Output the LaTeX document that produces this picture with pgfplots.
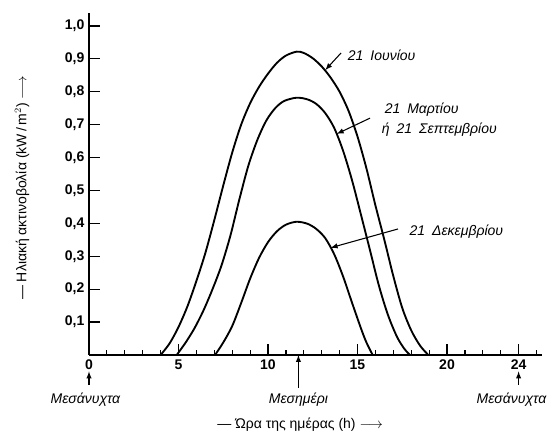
\documentclass[border=0pt]{standalone}
\usepackage{fontspec}
\setmainfont{Liberation Sans}
\usepackage{pgfplots}
\pgfplotsset{compat=1.18}
\begin{document}
\begin{tikzpicture}
\begin{axis}[
    at={(0,0)}, anchor=origin,
    x=13.425pt, y=246.75pt,
    xmin=0, xmax=25.3, ymin=0, ymax=1.04,
    axis lines=left,
    axis line style={-, line width=1.1pt},
    clip=false,
    xtick={0,5,10,15,20,24},
    minor xtick={1,2,3,4,6,7,8,9,11,12,13,14,16,17,18,19,21,22,23,25},
    ytick={0.1,0.2,0.3,0.4,0.5,0.6,0.7,0.8,0.9,1.0},
    major tick length=8pt,
    minor tick length=4pt,
    tick align=inside,
    every tick/.style={line width=0.9pt, black},
    /pgf/number format/assume math mode=true,
    yticklabel style={/pgf/number format/.cd, fixed, fixed zerofill, precision=1, use comma},
    ticklabel style={font=\fontsize{10.5}{12}\selectfont\bfseries},
    xlabel={— Ώρα της ημέρας (h) $\longrightarrow$},
    xlabel style={at={(axis cs:11.8,-0.213)}, anchor=center, font=\fontsize{10.5}{12}\selectfont},
    ylabel={— Ηλιακή ακτινοβολία (kW\,/\,m$^{2}$) $\longrightarrow$},
    ylabel style={at={(axis cs:-3.74,0.508)}, anchor=center, font=\fontsize{10.5}{12}\selectfont},
    cycle list={{black}},
    every axis plot/.append style={no markers, line width=1.4pt, smooth},
]
% 21 June
\addplot coordinates {
    (4.0,0) (4.5,0.035) (5.0,0.085) (5.5,0.148) (6.0,0.225) (6.5,0.31)
    (7.0,0.41) (7.5,0.515) (8.0,0.615) (8.5,0.70) (9.0,0.765) (9.5,0.815)
    (10.0,0.855) (10.5,0.888) (11.0,0.91) (11.6,0.922) (12.0,0.918)
    (12.5,0.902) (13.0,0.877) (13.5,0.843) (14.0,0.80) (14.5,0.742)
    (15.0,0.664) (15.5,0.567) (16.0,0.455) (16.5,0.35) (17.0,0.24)
    (17.5,0.143) (18.0,0.075) (18.5,0.028) (18.96,0)
};
% 21 March / 21 September
\addplot coordinates {
    (4.9,0) (5.4,0.038) (5.9,0.082) (6.4,0.136) (6.9,0.20) (7.4,0.272)
    (7.9,0.363) (8.4,0.473) (8.9,0.575) (9.4,0.653) (9.9,0.712) (10.4,0.75)
    (10.9,0.772) (11.6,0.782) (12.2,0.777) (12.7,0.763) (13.2,0.735)
    (13.7,0.69) (14.2,0.62) (14.7,0.53) (15.2,0.425) (15.7,0.318)
    (16.2,0.21) (16.7,0.122) (17.2,0.056) (17.6,0.02) (17.93,0)
};
% 21 December
\addplot coordinates {
    (7.04,0) (7.5,0.038) (8.0,0.088) (8.5,0.158) (9.0,0.232) (9.5,0.295)
    (10.0,0.343) (10.5,0.376) (11.0,0.396) (11.6,0.405) (12.2,0.399)
    (12.7,0.383) (13.2,0.355) (13.7,0.306) (14.2,0.238) (14.7,0.158)
    (15.2,0.08) (15.5,0.038) (15.85,0)
};
% annotations
\draw[line width=0.8pt, -latex] (axis cs:14.08,0.918) -- (axis cs:13.2,0.866);
\node[anchor=west, font=\fontsize{10.5}{12}\selectfont\itshape] at (axis cs:14.2,0.912) {21\enspace Ιουνίου};
\draw[line width=0.8pt, -latex] (axis cs:15.7,0.72) -- (axis cs:13.84,0.672);
\node[anchor=west, font=\fontsize{10.5}{12}\selectfont\itshape] at (axis cs:16.26,0.745) {21\enspace Μαρτίου};
\node[anchor=west, font=\fontsize{10.5}{12}\selectfont\itshape] at (axis cs:16.1,0.684) {ή\enspace 21\enspace Σεπτεμβρίου};
\draw[line width=0.8pt, -latex] (axis cs:17.26,0.383) -- (axis cs:13.5,0.326);
\node[anchor=west, font=\fontsize{10.5}{12}\selectfont\itshape] at (axis cs:17.65,0.374) {21\enspace Δεκεμβρίου};
% time-of-day markers
\draw[line width=0.8pt, -latex] (axis cs:0,-0.091) -- (axis cs:0,-0.05);
\draw[line width=0.8pt, -latex] (axis cs:24,-0.091) -- (axis cs:24,-0.05);
\draw[line width=0.8pt, -latex] (axis cs:11.7,-0.10) -- (axis cs:11.7,0);
\node[font=\fontsize{10.5}{12}\selectfont\itshape] at (axis cs:-0.2,-0.137) {Μεσάνυχτα};
\node[font=\fontsize{10.5}{12}\selectfont\itshape] at (axis cs:11.7,-0.137) {Μεσημέρι};
\node[font=\fontsize{10.5}{12}\selectfont\itshape] at (axis cs:23.6,-0.137) {Μεσάνυχτα};
\end{axis}
\pgfresetboundingbox
\path[use as bounding box] (-66.75pt,-62.25pt) rectangle (351pt,266.25pt);
\end{tikzpicture}
\end{document}
